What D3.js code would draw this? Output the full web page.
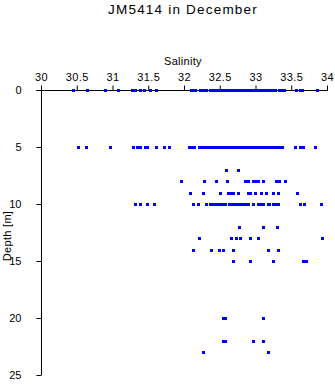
<!DOCTYPE html>
<html>
<head>
<meta charset="utf-8">
<script src="https://cdn.jsdelivr.net/npm/d3@7"></script>
<style>
html,body{margin:0;padding:0;background:#fff;}
svg{display:block;}
text{font-family:"Liberation Sans",Arial,Helvetica,sans-serif;fill:#000;}
</style>
</head>
<body>
<svg id="chart" width="335" height="384"></svg>
<script>
const title = "JM5414 in December";
const xLabel = "Salinity";
const yLabel = "Depth [m]";
const xTicks = [30, 30.5, 31, 31.5, 32, 32.5, 33, 33.5, 34];
const yTicks = [0, 5, 10, 15, 20, 25];

const depths = [0, 5, 7, 8, 9, 10, 12, 13, 14, 15, 20, 22, 23];
const sal0 = [30.45, 30.65, 30.90, 31.07, 31.27, 31.31, 31.38, 31.44, 31.53, 31.61,
  32.10, 32.13, 32.16, 32.22, 32.25, 32.28, 32.31, 32.37, 32.39, 32.42, 32.44, 32.47,
  32.49, 32.52, 32.54, 32.57, 32.59, 32.62, 32.64, 32.67, 32.69, 32.72, 32.74, 32.77,
  32.79, 32.82, 32.84, 32.87, 32.89, 32.92, 32.95, 32.99, 33.01, 33.04, 33.06, 33.09,
  33.12, 33.15, 33.18, 33.21, 33.24, 33.27, 33.33, 33.35, 33.40, 33.56, 33.62, 33.65, 33.86];
const sal5 = [30.52, 30.63, 30.97, 31.28, 31.34, 31.39, 31.45, 31.48, 31.61, 31.72, 31.79,
  32.07, 32.10, 32.14, 32.21, 32.24, 32.28, 32.30, 32.33, 32.36, 32.39, 32.41, 32.44,
  32.46, 32.49, 32.51, 32.54, 32.56, 32.59, 32.61, 32.64, 32.66, 32.69, 32.71, 32.74,
  32.76, 32.79, 32.81, 32.84, 32.86, 32.89, 32.91, 32.94, 32.96, 32.99, 33.01, 33.04,
  33.06, 33.09, 33.11, 33.14, 33.16, 33.19, 33.21, 33.24, 33.26, 33.29, 33.31, 33.34,
  33.37, 33.55, 33.62, 33.64, 33.67, 33.83];
const sal7 = [32.59, 32.76];
const sal8 = [31.96, 32.28, 32.45, 32.60, 32.86, 32.90, 32.96, 33.00, 33.03, 33.10, 33.28, 33.33, 33.41];
const sal9 = [32.09, 32.27, 32.51, 32.61, 32.64, 32.68, 32.76, 32.90, 32.93, 32.99, 33.07,
  33.14, 33.24, 33.25, 33.31, 33.58];
const sal10 = [31.31, 31.38, 31.48, 31.58, 32.12, 32.20, 32.31, 32.37, 32.40, 32.43, 32.46,
  32.49, 32.52, 32.55, 32.58, 32.63, 32.66, 32.69, 32.72, 32.75, 32.78, 32.81, 32.84,
  32.86, 32.90, 32.96, 33.03, 33.06, 33.11, 33.17, 33.19, 33.24, 33.27, 33.31, 33.62, 33.68, 33.91];
const sal12 = [32.77, 33.10, 33.30];
const sal13 = [32.21, 32.66, 32.73, 32.79, 32.93, 33.03, 33.93];
const sal14 = [32.12, 32.38, 32.49, 32.55, 32.68, 33.17, 33.32];
const sal15 = [32.69, 32.92, 33.25, 33.66, 33.69, 33.71];
const sal20 = [32.54, 32.57, 33.10];
const sal22 = [32.54, 32.57, 32.96, 33.10];
const sal23 = [32.26, 33.18];

const salByDepth = [sal0, sal5, sal7, sal8, sal9, sal10, sal12, sal13, sal14, sal15, sal20, sal22, sal23];
const points = [];
depths.forEach((d, i) => salByDepth[i].forEach(s => points.push({s: s, d: d})));

const svg = d3.select("#chart");
const x = d3.scaleLinear().domain([30, 34]).range([41, 327]);
const y = d3.scaleLinear().domain([0, 25]).range([90, 375]);

svg.append("text").attr("x", 183).attr("y", 14).attr("text-anchor", "middle")
  .style("font-size", "13.5px").style("letter-spacing", "1.2px").text(title);

svg.append("text").attr("x", 183).attr("y", 65).attr("text-anchor", "middle")
  .style("font-size", "11px").style("letter-spacing", "0.3px").text(xLabel);

svg.append("text").attr("transform", "translate(11,236) rotate(-90)")
  .attr("text-anchor", "middle").style("font-size", "11px").style("letter-spacing", "0.3px").text(yLabel);

const xAxis = d3.axisTop(x).tickValues(xTicks).tickSize(5).tickSizeOuter(0)
  .tickFormat(d3.format("~g"));
const gx = svg.append("g").attr("transform", "translate(0,90.5)").call(xAxis);
gx.selectAll("text").style("font-size", "11px").style("font-family", "'Liberation Sans',Arial,sans-serif")
  .attr("y", -10).attr("dy", 0).style("letter-spacing", "0.4px");
gx.selectAll("line").attr("stroke", "#000");
gx.select(".domain").attr("d", "M36.5,0H327.5").attr("stroke", "#000");

const yAxis = d3.axisLeft(y).tickValues(yTicks).tickSize(5).tickSizeOuter(0);
const gy = svg.append("g").attr("transform", "translate(41.5,0)").call(yAxis);
gy.selectAll("text").style("font-size", "11px").style("font-family", "'Liberation Sans',Arial,sans-serif")
  .attr("x", -20).attr("dy", "0.36em");
gy.selectAll("line").attr("stroke", "#000");
gy.select(".domain").attr("d", "M0,86V375").attr("stroke", "#000");

svg.append("g").selectAll("rect").data(points).join("rect")
  .attr("x", p => Math.round(x(p.s)) - 1.5)
  .attr("y", p => Math.round(y(p.d)) - 1.5)
  .attr("width", 3).attr("height", 3)
  .attr("fill", "#0000ff")
  .attr("shape-rendering", "crispEdges");
</script>
</body>
</html>
